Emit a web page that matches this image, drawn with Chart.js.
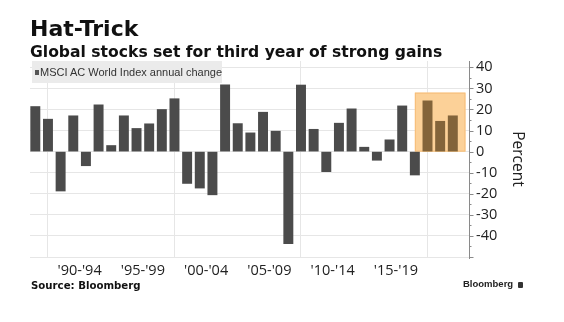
<!DOCTYPE html>
<html>
<head>
<meta charset="utf-8">
<script src="https://cdn.jsdelivr.net/npm/chart.js@4.4.1/dist/chart.umd.min.js"></script>
<style>
	body { margin: 0; background: #fff; }
	#wrap { position: relative; width: 564px; height: 322px; overflow: hidden; }
	#myChart { position: absolute; left: 0; top: 0; }
	.txt { position: absolute; white-space: nowrap; color: #111; }
	#title { left: 30px; top: 18px; font: bold 22px "DejaVu Sans"; line-height: 22px; }
	#subtitle { left: 30px; top: 44px; font: bold 15.6px "DejaVu Sans"; line-height: 16px; }
	#legend { position: absolute; left: 32px; top: 61px; width: 190px; height: 22px; background: #ebebeb; }
	#legend span { position: absolute; left: 3px; top: 5px; font: 11px "Liberation Sans"; color: #333; white-space: nowrap; }
	#legend i { display: inline-block; width: 4px; height: 5px; background: #555; margin-right: 1px; vertical-align: 1px; }
	#source { left: 31px; top: 281px; font: bold 10.2px "DejaVu Sans"; line-height: 10px; }
	#logo { left: 463px; top: 279px; font: bold 9.5px "Liberation Sans"; line-height: 10px; color: #222; }
	#logo b { display: inline-block; width: 5px; height: 6px; background: #333; border-radius: 1px; margin-left: 5px; vertical-align: -1px; }
</style>
</head>
<body>
<div id="wrap">
	<canvas id="myChart" width="564" height="322"></canvas>
	<div class="txt" id="title">Hat-Trick</div>
	<div class="txt" id="subtitle">Global stocks set for third year of strong gains</div>
	<div id="legend"><span><i></i>MSCI AC World Index annual change</span></div>
	<div class="txt" id="source">Source: Bloomberg</div>
	<div class="txt" id="logo">Bloomberg<b></b></div>
</div>
<script>
// MSCI AC World Index, yearly % change (bar sits at the end of its year)
const years = [1988, 1989, 1990, 1991, 1992, 1993, 1994, 1995, 1996, 1997, 1998, 1999,
	2000, 2001, 2002, 2003, 2004, 2005, 2006, 2007, 2008, 2009, 2010, 2011,
	2012, 2013, 2014, 2015, 2016, 2017, 2018, 2019, 2020, 2021];
const changes = [21.4, 15.4, -18.7, 17.0, -6.7, 22.2, 2.9, 17.0, 11.0, 13.2, 20.0, 25.1,
	-15.1, -17.3, -20.5, 31.7, 13.3, 8.9, 18.7, 9.7, -43.7, 31.6, 10.6, -9.5,
	13.5, 20.3, 2.1, -4.1, 5.6, 21.7, -11.1, 24.1, 14.4, 17.0];

// x axis: five-year periods, gridlines at the decades
const periodLabels = ["'90-'94", "'95-'99", "'00-'04", "'05-'09", "'10-'14", "'15-'19"];
const periodStarts = [1990, 1995, 2000, 2005, 2010, 2015];
const decadeStarts = [1990, 2000, 2010, 2020];

// y axis
const yTicks = [-50, -40, -30, -20, -10, 0, 10, 20, 30, 40];

// shaded stretch: the three up years in a row
const hatTrickYears = [2019, 2022];
const hatTrickTop = 28;

// a year Y begins where the bar of Y-1 stands
function yearStart(y) {
	return y - 1;
}

const periodPos = periodStarts.map(function(y) { return yearStart(y) + 2.5; });
const decadePos = decadeStarts.map(yearStart);

const points = [];
const barColors = [];
for (let i = 0; i < years.length; i++) {
	points.push({ x: years[i], y: changes[i] });
	// bars inside the shaded box turn brown
	const inBox = years[i] >= hatTrickYears[0] && years[i] <= hatTrickYears[1];
	barColors.push(inBox ? '#83643a' : '#4b4b4b');
}

const hatTrickBox = {
	id: 'hatTrickBox',
	beforeDatasetsDraw(chart) {
		const ctx = chart.ctx;
		const x = chart.scales.x;
		const y = chart.scales.y;
		const x1 = x.getPixelForValue(yearStart(hatTrickYears[0]));
		const x2 = x.getPixelForValue(yearStart(hatTrickYears[1] + 1));
		const y1 = y.getPixelForValue(hatTrickTop);
		const y2 = y.getPixelForValue(0);
		ctx.save();
		ctx.fillStyle = '#fcd198';
		ctx.fillRect(x1, y1, x2 - x1, y2 - y1);
		ctx.strokeStyle = '#f6bd78';
		ctx.lineWidth = 1;
		ctx.strokeRect(x1 + 0.5, y1 + 0.5, x2 - x1 - 1, y2 - y1 - 1);
		ctx.restore();
	}
};

// right-hand axis line with major and minor tick marks
const rightAxis = {
	id: 'rightAxis',
	afterDraw(chart) {
		const ctx = chart.ctx;
		const y = chart.scales.y;
		const xr = Math.round(chart.chartArea.right) + 0.5;
		ctx.save();
		ctx.strokeStyle = '#8a8a8a';
		ctx.lineWidth = 1;
		ctx.beginPath();
		ctx.moveTo(xr, chart.chartArea.top);
		ctx.lineTo(xr, chart.chartArea.bottom + 2);
		for (let v = -50; v <= 40; v += 5) {
			const py = Math.round(y.getPixelForValue(v)) + 0.5;
			const len = v % 10 === 0 ? 4 : 2;
			ctx.moveTo(xr, py);
			ctx.lineTo(xr + len, py);
		}
		ctx.stroke();
		ctx.restore();
	}
};

const ctx = document.getElementById('myChart');

new Chart(ctx, {
	type: 'bar',
	data: {
		datasets: [{
			label: 'MSCI AC World Index annual change',
			data: points,
			backgroundColor: barColors,
			borderWidth: 0,
			barThickness: 9.3
		}]
	},
	options: {
		responsive: false,
		animation: false,
		layout: {
			padding: { left: 30, top: 61, right: 0, bottom: 0 }
		},
		plugins: {
			legend: { display: false },
			tooltip: { enabled: false }
		},
		scales: {
			x: {
				type: 'linear',
				offset: false,
				min: 1987.58,
				max: 2022.28,
				afterBuildTicks: function(scale) {
					const ticks = [];
					decadePos.forEach(function(v) { ticks.push({ value: v }); });
					periodPos.forEach(function(v) { ticks.push({ value: v }); });
					scale.ticks = ticks;
				},
				afterFit: function(scale) {
					scale.height = 65;
				},
				ticks: {
					autoSkip: false,
					maxRotation: 0,
					padding: 5,
					color: '#222',
					font: { family: 'Open Sans', size: 14.5 },
					callback: function(value) {
						const i = periodPos.indexOf(value);
						return i >= 0 ? periodLabels[i] : '';
					}
				},
				grid: {
					drawTicks: false,
					offset: false,
					color: function(c) {
						return c.tick && decadePos.indexOf(c.tick.value) >= 0 ? '#e6e6e6' : 'rgba(0,0,0,0)';
					}
				},
				border: { display: false }
			},
			y: {
				position: 'right',
				min: -50,
				max: 43,
				afterBuildTicks: function(scale) {
					scale.ticks = yTicks.map(function(v) { return { value: v }; });
				},
				afterFit: function(scale) {
					scale.width = 95;
				},
				ticks: {
					padding: 7,
					color: '#222',
					font: { family: 'Open Sans', size: 14.5 },
					callback: function(value) {
						return value === -50 ? '' : String(value);
					}
				},
				grid: {
					drawTicks: false,
					color: '#e6e6e6'
				},
				border: { display: false },
				title: {
					display: true,
					text: 'Percent',
					color: '#222',
					font: { family: 'Open Sans', size: 15.5 },
					padding: { top: 37, bottom: 0 }
				}
			}
		}
	},
	plugins: [hatTrickBox, rightAxis]
});
</script>
</body>
</html>
